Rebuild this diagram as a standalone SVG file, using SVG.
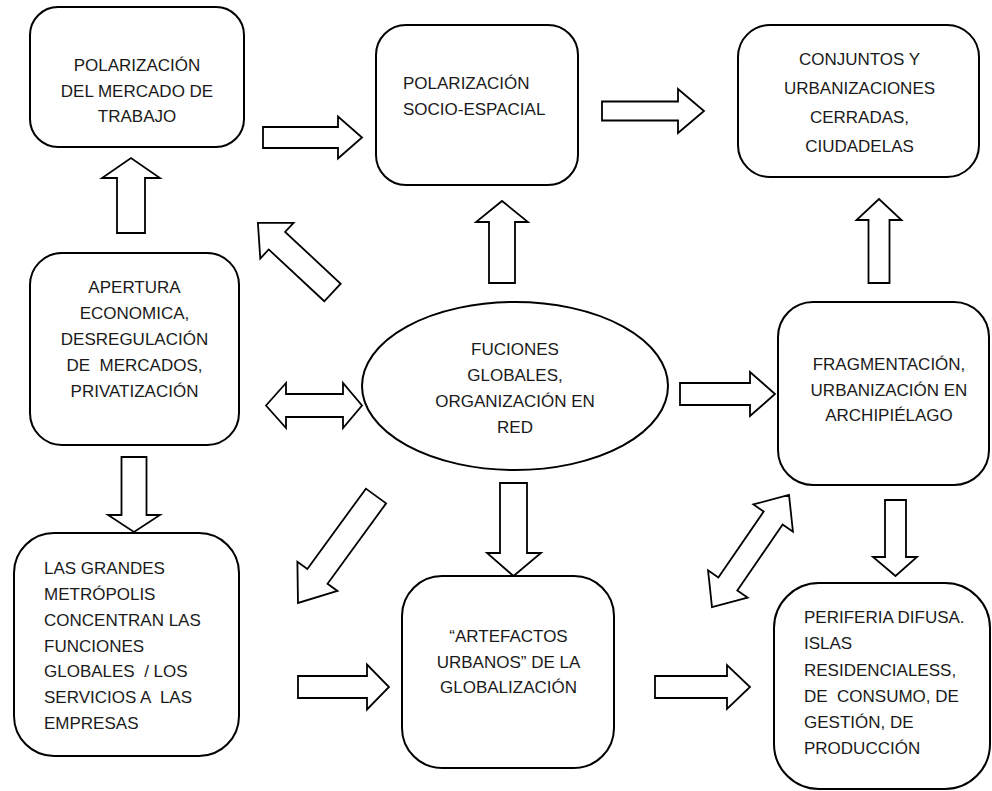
<svg xmlns="http://www.w3.org/2000/svg" width="992" height="791" viewBox="0 0 992 791">
<style>
.box{fill:#fff;stroke:#000;stroke-width:2}
.arr{fill:#fff;stroke:#000;stroke-width:1.8;stroke-linejoin:miter}
text{font-family:"Liberation Sans",Arial,sans-serif;font-size:17px;fill:#1a1a1a;white-space:pre}
.c{text-anchor:middle}
</style>
<rect width="992" height="791" fill="#fff"/>
<g id="connectors">
<polygon class="arr" points="263,127 338,127 338,116.5 362,137.5 338,158.5 338,148 263,148"/>
<polygon class="arr" points="602,101.5 678,101.5 678,89 704,111 678,133 678,120.5 602,120.5"/>
<polygon class="arr" points="117,233 117,178 102,178 131,158 160,178 145,178 145,233"/>
<polygon class="arr" points="489,283 489,222 476,222 502,201 528,222 515,222 515,283"/>
<polygon class="arr" points="868.5,283 868.5,220 856.5,220 879,199 901.5,220 889.5,220 889.5,283"/>
<polygon class="arr" transform="translate(332.5,292.5) rotate(-137)" points="0,-12 76,-12 76,-24.4 102,0 76,24.4 76,12 0,12"/>
<polygon class="arr" points="266,405.5 286,383 286,394 343,394 343,383 362,405.5 343,428 343,417 286,417 286,428"/>
<polygon class="arr" points="680,383 750,383 750,372 775,394 750,416 750,405 680,405"/>
<polygon class="arr" points="121.5,457 146.5,457 146.5,515 160,515 134,532 108,515 121.5,515"/>
<polygon class="arr" points="500,483 527,483 527,553 541,553 513.5,576 487,553 500,553"/>
<polygon class="arr" points="885,500 906,500 906,557 917,557 895.5,576 873,557 885,557"/>
<polygon class="arr" transform="translate(376,496) rotate(126.1)" points="0,-12.5 99.4,-12.5 99.4,-24.8 132.4,0 99.4,24.8 99.4,12.5 0,12.5"/>
<polygon class="arr" points="298,676 367,676 367,664.5 389,687 367,709.5 367,698 298,698"/>
<polygon class="arr" points="655,676 727,676 727,665 750,687 727,709 727,698 655,698"/>
<polygon class="arr" transform="translate(750.5,551) rotate(-55.5)" points="-68,0 -40,-24 -40,-11.5 40,-11.5 40,-24 68,0 40,24 40,11.5 -40,11.5 -40,24"/>
</g>
<g id="n1">
<rect class="box" x="30" y="7" width="214" height="140" rx="28"/>
<text class="c" x="137" y="71">POLARIZACIÓN</text>
<text class="c" x="137" y="96.5">DEL MERCADO DE</text>
<text class="c" x="137" y="122">TRABAJO</text>
</g>
<g id="n2">
<rect class="box" x="376" y="25" width="202" height="160" rx="30"/>
<text x="403" y="89">POLARIZACIÓN</text>
<text x="403" y="115">SOCIO-ESPACIAL</text>
</g>
<g id="n3">
<rect class="box" x="738" y="25" width="241" height="152" rx="32"/>
<text class="c" x="859.5" y="65">CONJUNTOS Y</text>
<text class="c" x="859.5" y="94">URBANIZACIONES</text>
<text class="c" x="859.5" y="123">CERRADAS,</text>
<text class="c" x="859.5" y="152">CIUDADELAS</text>
</g>
<g id="n4">
<rect class="box" x="30" y="253" width="209" height="192" rx="32"/>
<text class="c" x="134.5" y="293">APERTURA</text>
<text class="c" x="134.5" y="319">ECONOMICA,</text>
<text class="c" x="134.5" y="345">DESREGULACIÓN</text>
<text class="c" x="134.5" y="371">DE  MERCADOS,</text>
<text class="c" x="134.5" y="397">PRIVATIZACIÓN</text>
</g>
<g id="n5">
<ellipse class="box" cx="515" cy="386" rx="153" ry="84"/>
<text class="c" x="515" y="355">FUCIONES</text>
<text class="c" x="515" y="381">GLOBALES,</text>
<text class="c" x="515" y="407">ORGANIZACIÓN EN</text>
<text class="c" x="515" y="433">RED</text>
</g>
<g id="n6">
<rect class="box" x="778" y="302" width="211" height="183" rx="35"/>
<text class="c" x="889" y="370">FRAGMENTACIÓN,</text>
<text class="c" x="889" y="395.5">URBANIZACIÓN EN</text>
<text class="c" x="889" y="421">ARCHIPIÉLAGO</text>
</g>
<g id="n7">
<rect class="box" x="14" y="533" width="225" height="223" rx="40"/>
<text x="44" y="574">LAS GRANDES</text>
<text x="44" y="600">METRÓPOLIS</text>
<text x="44" y="626">CONCENTRAN LAS</text>
<text x="44" y="651.5">FUNCIONES</text>
<text x="44" y="677">GLOBALES  / LOS</text>
<text x="44" y="703">SERVICIOS A  LAS</text>
<text x="44" y="729">EMPRESAS</text>
</g>
<g id="n8">
<rect class="box" x="402" y="576" width="212" height="192" rx="40"/>
<text class="c" x="508.5" y="642">“ARTEFACTOS</text>
<text class="c" x="508.5" y="667.5">URBANOS” DE LA</text>
<text class="c" x="508.5" y="693">GLOBALIZACIÓN</text>
</g>
<g id="n9">
<rect class="box" x="774" y="583" width="216" height="206" rx="45"/>
<text x="804" y="623">PERIFERIA DIFUSA.</text>
<text x="804" y="649">ISLAS</text>
<text x="804" y="675.5">RESIDENCIALESS,</text>
<text x="804" y="702">DE  CONSUMO, DE</text>
<text x="804" y="728">GESTIÓN, DE</text>
<text x="804" y="754">PRODUCCIÓN</text>
</g>
</svg>
